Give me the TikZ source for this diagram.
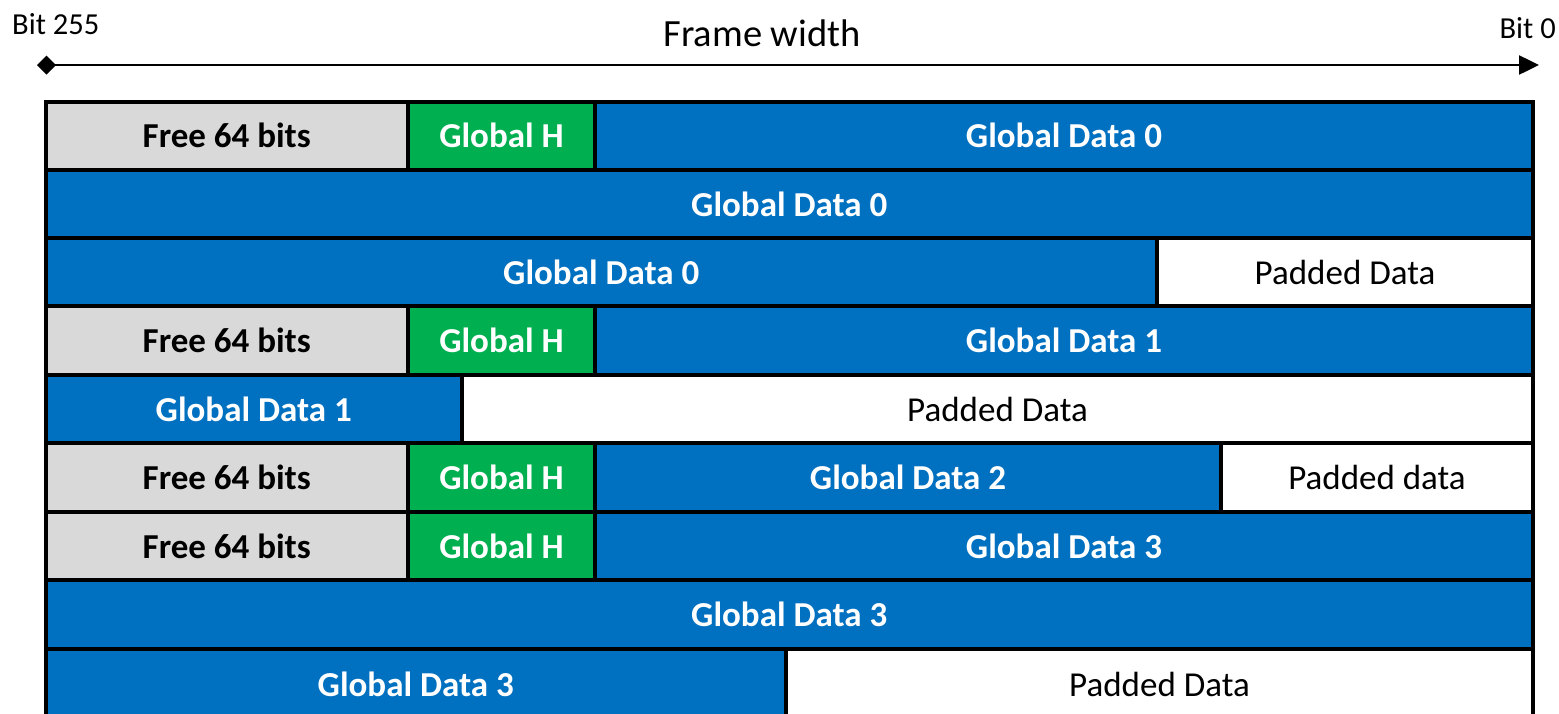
\documentclass[tikz,border=0pt]{standalone}
\usepackage{fontspec}
\setmainfont{Carlito}
\usetikzlibrary{arrows.meta}
\definecolor{gblue}{HTML}{0070C0}
\definecolor{ggreen}{HTML}{00B050}
\definecolor{ggray}{HTML}{D9D9D9}
\newcommand\mycell[7]{%
 \pgfmathsetmacro\cx{(#2+#3)/2}\pgfmathsetmacro\cy{(#4+#5)/2}%
 \pgfmathsetmacro\cw{#3-#2}\pgfmathsetmacro\ch{#5-#4}%
 \node[#6, minimum width=\cw pt, minimum height=\ch pt] (#1) at (\cx,\cy) {#7};}
\tikzset{
 cellbase/.style={draw=black, line width=4pt, inner sep=0pt, rectangle, font=\fontsize{35}{40}\selectfont},
 freecell/.style={cellbase, fill=ggray, font=\fontsize{35}{40}\selectfont\bfseries, text=black},
 hcell/.style={cellbase, fill=ggreen, font=\fontsize{35}{40}\selectfont\bfseries, text=white},
 datacell/.style={cellbase, fill=gblue, font=\fontsize{35}{40}\selectfont\bfseries, text=white},
 padcell/.style={cellbase, fill=white, text=black},
 lbl/.style={inner sep=0pt, font=\fontsize{30.5}{35}\selectfont},
}
\begin{document}
\begin{tikzpicture}[x=1pt,y=-1pt]
\useasboundingbox (0,0) rectangle (1559,713);
\clip (0,0) rectangle (1559,713);
\def\xL{45.5}\def\xF{408}\def\xG{595}\def\xR{1533}
% rows
\mycell{f1}{\xL}{\xF}{101.5}{170}{freecell}{Free 64 bits}
\mycell{h1}{\xF}{\xG}{101.5}{170}{hcell}{Global H}
\mycell{d1}{\xG}{\xR}{101.5}{170}{datacell}{Global Data 0}
\mycell{d2}{\xL}{\xR}{170}{238}{datacell}{Global Data 0}
\mycell{d3}{\xL}{1157}{238}{306}{datacell}{Global Data 0}
\mycell{p3}{1157}{\xR}{238}{306}{padcell}{Padded Data}
\mycell{f4}{\xL}{\xF}{306}{375}{freecell}{Free 64 bits}
\mycell{h4}{\xF}{\xG}{306}{375}{hcell}{Global H}
\mycell{d4}{\xG}{\xR}{306}{375}{datacell}{Global Data 1}
\mycell{d5}{\xL}{462}{375}{443}{datacell}{Global Data 1}
\mycell{p5}{462}{\xR}{375}{443}{padcell}{Padded Data}
\mycell{f6}{\xL}{\xF}{443}{512}{freecell}{Free 64 bits}
\mycell{h6}{\xF}{\xG}{443}{512}{hcell}{Global H}
\mycell{d6}{\xG}{1221}{443}{512}{datacell}{Global Data 2}
\mycell{p6}{1221}{\xR}{443}{512}{padcell}{Padded data}
\mycell{f7}{\xL}{\xF}{512}{580}{freecell}{Free 64 bits}
\mycell{h7}{\xF}{\xG}{512}{580}{hcell}{Global H}
\mycell{d7}{\xG}{\xR}{512}{580}{datacell}{Global Data 3}
\mycell{d8}{\xL}{\xR}{580}{649}{datacell}{Global Data 3}
\mycell{d9}{\xL}{786}{649}{720}{datacell}{Global Data 3}
\mycell{p9}{786}{\xR}{649}{720}{padcell}{Padded Data}
% header
\coordinate (aL) at (37,65);
\coordinate (aR) at (1539,65);
\draw[line width=2.5pt, {Diamond[length=19pt,width=19pt]}-{Triangle[length=20pt,width=19pt]}] (aL) -- (aR);
\node[lbl, anchor=west] (b255) at (12,24) {Bit 255};
\node[lbl, anchor=east] (b0) at (1556,28) {Bit 0};
\node[lbl, font=\fontsize{38.5}{44}\selectfont] (fw) at (762,33) {Frame width};
\end{tikzpicture}
\end{document}
